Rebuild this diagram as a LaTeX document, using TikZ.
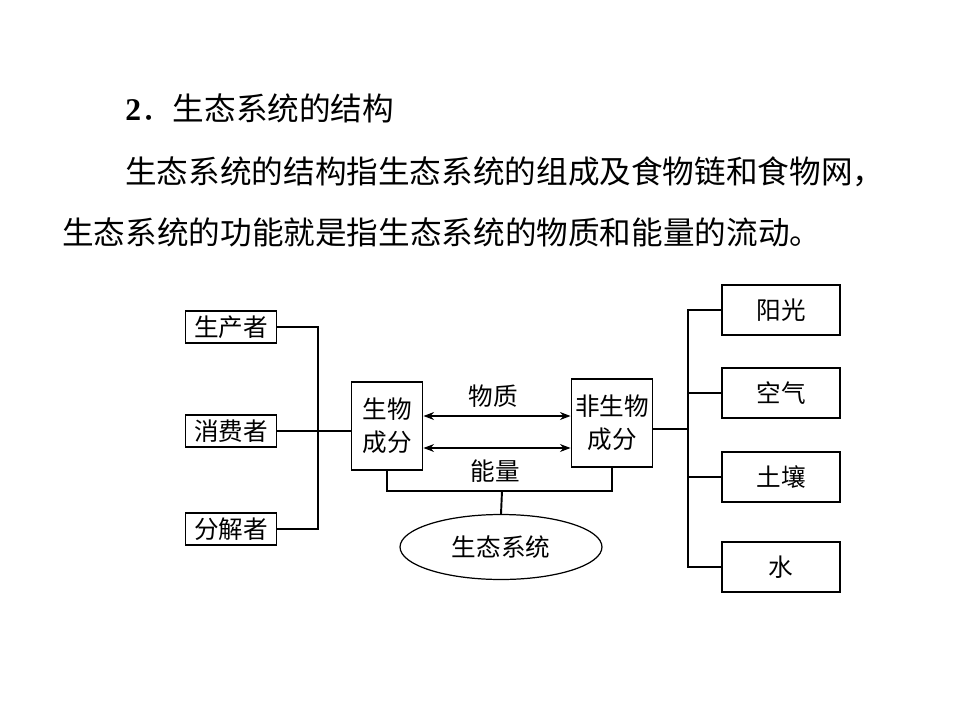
\documentclass[tikz,border=0pt]{standalone}
\usepackage{fontspec}
\setmainfont{Liberation Serif}
\newfontfamily\cjk{Noto Sans CJK SC}
\usetikzlibrary{arrows.meta,shapes.geometric}

\begin{document}
\begin{tikzpicture}[x=0.02cm, y=-0.02cm,
	txt/.style={font=\cjk\fontsize{18}{22}\selectfont, anchor=west, inner sep=0pt},
	part/.style={draw, line width=1.1pt, font=\cjk\fontsize{14}{16}\selectfont, inner sep=0pt, minimum width=1.82cm, minimum height=0.64cm},
	side/.style={draw, line width=1.1pt, font=\cjk\fontsize{14}{16}\selectfont, inner sep=0pt, minimum width=2.36cm, minimum height=1cm},
	comp/.style={draw, line width=1.1pt, font=\cjk\fontsize{14}{19}\selectfont, align=center, inner sep=0pt, minimum height=1.76cm},
	lbl/.style={font=\cjk\fontsize{14}{16}\selectfont, inner sep=0pt}]
	\useasboundingbox (0,0) rectangle (960,720);

	% heading and text
	\node[txt] (title) at (125,108) {{\rmfamily\bfseries 2}．生态系统的结构};
	\node[txt] (line1) at (125,172) {生态系统的结构指生态系统的组成及食物链和食物网，};
	\node[txt] (line2) at (62,232) {生态系统的功能就是指生态系统的物质和能量的流动。};

	% left parts
	\node[part] (prod) at (231,327) {生产者};
	\node[part] (cons) at (231,431) {消费者};
	\node[part] (dec) at (231,529) {分解者};
	\coordinate (lbus) at (318,431);

	% components
	\node[comp, minimum width=1.42cm] (bio) at (387,426) {生物\\成分};
	\node[comp, minimum width=1.62cm] (abio) at (612,423) {非生物\\成分};
	\node[lbl] (matter) at (493,396) {物质};
	\node[lbl] (energy) at (495,471) {能量};

	% right parts
	\node[side] (sun) at (781,310) {阳光};
	\node[side] (air) at (781,393) {空气};
	\node[side] (soil) at (781,477) {土壤};
	\node[side] (water) at (781,567) {水};
	\coordinate (rbus) at (688,429);

	\node[draw, ellipse, line width=0.7pt, font=\cjk\fontsize{14}{16}\selectfont, minimum width=4.04cm, minimum height=1.3cm] (eco) at (501,547) {生态系统};
	\coordinate (bbus) at (502,491);

	\draw[line width=1.1pt] (prod.east) -| (lbus) |- (dec.east);
	\draw[line width=0.6pt] (cons.east) -- (cons.east -| bio.west);
	\draw[line width=1.1pt] (sun.west) -| (rbus) |- (water.west);
	\draw[line width=1.1pt] (air.west) -- (air.west -| rbus);
	\draw[line width=1.1pt] (soil.west) -- (soil.west -| rbus);
	\draw[line width=1.1pt] (rbus -| abio.east) -- (rbus);
	\draw[line width=1.1pt, {Stealth[length=6pt]}-{Stealth[length=6pt]}] ([yshift=0.2cm]bio.east) -- ([yshift=0.2cm]bio.east -| abio.west);
	\draw[line width=0.6pt, {Stealth[length=6pt]}-{Stealth[length=6pt]}] ([yshift=-0.44cm]bio.east) -- ([yshift=-0.44cm]bio.east -| abio.west);
	\draw[line width=0.6pt] (bio.south) |- (bbus) -| (abio.south);
	\draw[line width=1.1pt] (bbus) -- (eco.north);
\end{tikzpicture}
\end{document}
